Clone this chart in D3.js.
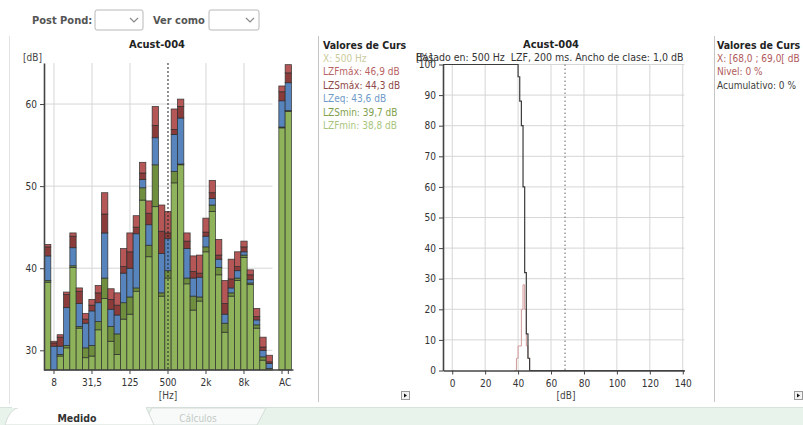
<!DOCTYPE html>
<html>
<head>
<meta charset="utf-8">
<script src="https://cdn.jsdelivr.net/npm/d3@7"></script>
<style>
  body { margin: 0; background: #fff; }
  svg { display: block; }
</style>
</head>
<body>
<div id="chart"></div>
<script>
// 1/3 octave bands + A / C totals
const bands = ["6,3", "8", "10", "12,5", "16", "20", "25", "31,5", "40", "50", "63", "80", "100", "125", "160", "200",
    "250", "315", "400", "500", "630", "800", "1k", "1,25k", "1,6k", "2k", "2,5k", "3,15k", "4k", "5k", "6,3k", "8k",
    "10k", "12,5k", "16k", "20k", "A", "C"];
const lzfMax = [42.9, 31.1, 31.9, 37.1, 44.3, 37.6, 34.5, 36.2, 37.9, 49.2, 37.5, 37.0, 42.4, 44.3, 46.4, 52.9,
    48.2, 59.7, 47.7, 46.9, 59.4, 60.6, 44.3, 41.5, 41.6, 46.1, 50.7, 43.5, 38.5, 41.1, 42.0, 43.3,
    39.8, 35.1, 31.6, 29.4, 62.2, 64.8];
const lzsMax = [42.6, 30.9, 31.6, 36.8, 43.9, 37.2, 33.8, 35.5, 37.0, 46.6, 36.2, 35.5, 40.2, 42.0, 45.0, 51.6,
    46.7, 57.4, 44.5, 44.3, 56.9, 59.7, 43.3, 39.6, 39.4, 44.4, 49.2, 41.6, 35.7, 38.7, 40.2, 42.6,
    39.2, 34.1, 30.4, 28.6, 61.5, 63.8];
const lzeq = [41.5, 30.5, 30.5, 35.2, 42.5, 35.7, 33.3, 34.8, 35.8, 44.3, 35.0, 34.3, 39.4, 40.0, 44.2, 50.8,
    45.3, 55.9, 41.8, 43.6, 56.3, 58.3, 42.4, 38.8, 38.9, 43.9, 48.5, 41.1, 34.4, 37.6, 39.7, 42.0,
    38.6, 33.7, 30.0, 28.4, 60.4, 62.6];
const lzsMin = [38.5, 27.2, 29.5, 30.6, 40.3, 32.9, 30.3, 30.6, 33.5, 38.8, 32.9, 32.0, 35.8, 36.5, 37.6, 49.8,
    42.8, 52.6, 37.0, 39.7, 51.8, 52.7, 38.8, 36.6, 36.5, 42.6, 47.7, 40.1, 33.3, 37.0, 38.8, 41.6,
    38.2, 33.1, 29.2, 27.8, 57.2, 59.2];
const lzfMin = [38.3, 27.0, 29.3, 30.3, 40.1, 32.7, 29.1, 29.3, 32.5, 36.3, 31.1, 29.5, 33.8, 34.4, 37.2, 48.3,
    41.4, 47.5, 36.6, 38.8, 50.4, 52.6, 38.1, 34.9, 36.0, 42.0, 46.9, 39.2, 32.2, 36.6, 38.5, 41.3,
    38.0, 32.7, 28.8, 27.4, 57.1, 59.1];
const bandTicks = ["8", "31,5", "125", "500", "2k", "8k"];
const levelTicks = [30, 40, 50, 60];

// distribution at 500 Hz, LZF, 1 dB classes
const claseDb = [38, 39, 40, 41, 42, 43, 44, 45, 46, 47];
const nivelPct = [0, 4, 8, 8, 20, 28, 20, 8, 4, 0];
const acumPct = [100, 100, 96, 88, 80, 60, 32, 12, 4, 0];
const dbTicks = [0, 20, 40, 60, 80, 100, 120, 140];
const pctTicks = [0, 10, 20, 30, 40, 50, 60, 70, 80, 90, 100];

const FONT = '"DejaVu Sans Condensed", "DejaVu Sans", Tahoma, sans-serif';
const colors = { fmin: "#8fb35a", smin: "#6f8f3f", eq: "#5784bd", smax: "#8c3b3b", fmax: "#b55757" };

const svg = d3.select("#chart").append("svg")
    .attr("width", 803)
    .attr("height", 425)
    .style("font-family", FONT);

// ---------- toolbar ----------
const dropdown = (x, w) => {
    svg.append("rect").attr("x", x).attr("y", 10).attr("width", w).attr("height", 20)
        .attr("rx", 2).attr("fill", "#fff").attr("stroke", "#b8b8b8");
    svg.append("path").attr("d", `M${x + w - 13},18 l4,4 l4,-4`)
        .attr("fill", "none").attr("stroke", "#8a8a8a").attr("stroke-width", 1.2);
};
svg.append("text").attr("x", 32).attr("y", 24).attr("font-size", 11).attr("font-weight", "bold")
    .attr("fill", "#555").text("Post Pond:");
dropdown(95, 48);
svg.append("text").attr("x", 153).attr("y", 24).attr("font-size", 11).attr("font-weight", "bold")
    .attr("fill", "#555").text("Ver como");
dropdown(209, 50);

// panel separators
svg.append("line").attr("x1", 9.5).attr("x2", 9.5).attr("y1", 36).attr("y2", 404).attr("stroke", "#e2e2e2");
svg.append("line").attr("x1", 318.5).attr("x2", 318.5).attr("y1", 36).attr("y2", 402).attr("stroke", "#c4c4c4");
svg.append("line").attr("x1", 714.5).attr("x2", 714.5).attr("y1", 36).attr("y2", 402).attr("stroke", "#c4c4c4");

// ---------- left chart: spectrum ----------
const slots = bands.slice(0, 36).concat(["_gap", "A", "C"]);
const xL = d3.scaleBand().domain(slots).range([44.5, 44.5 + slots.length * 6.333]);
const yL = d3.scaleLinear().domain([27.6, 65]).range([370, 63]);
const left = svg.append("g");
const cx = b => xL(b) + xL.bandwidth() / 2;

// grid
left.selectAll(".hgrid").data(levelTicks).enter().append("line")
    .attr("x1", 44).attr("x2", xL("_gap"))
    .attr("y1", d => yL(d)).attr("y2", d => yL(d))
    .attr("stroke", "#d6d6d6");
left.selectAll(".vgrid").data(bandTicks.filter(b => b !== "500")).enter().append("line")
    .attr("x1", d => cx(d)).attr("x2", d => cx(d))
    .attr("y1", yL.range()[1]).attr("y2", yL.range()[0])
    .attr("stroke", "#d6d6d6");

// stacked bars
const base = yL.domain()[0];
const rows = bands.map((b, i) => ({
    band: b,
    segs: [
        { lo: base, hi: lzfMin[i], c: colors.fmin },
        { lo: lzfMin[i], hi: lzsMin[i], c: colors.smin },
        { lo: lzsMin[i], hi: lzeq[i], c: colors.eq },
        { lo: lzeq[i], hi: lzsMax[i], c: colors.smax },
        { lo: lzsMax[i], hi: lzfMax[i], c: colors.fmax }
    ]
}));
const barG = left.selectAll(".bar").data(rows).enter().append("g")
    .attr("transform", d => `translate(${xL(d.band)},0)`);
barG.selectAll("rect").data(d => d.segs.filter(s => s.hi > base)).enter().append("rect")
    .attr("x", 0)
    .attr("width", xL.bandwidth())
    .attr("y", s => yL(s.hi))
    .attr("height", s => yL(Math.max(s.lo, base)) - yL(s.hi))
    .attr("fill", s => s.c)
    .attr("stroke", "#2b2b2b")
    .attr("stroke-opacity", 0.85)
    .attr("stroke-width", 0.8);

// cursor at 500 Hz
left.append("line")
    .attr("x1", cx("500")).attr("x2", cx("500"))
    .attr("y1", yL.range()[1]).attr("y2", yL.range()[0])
    .attr("stroke", "#222").attr("stroke-dasharray", "2,2");

// axes
left.append("g").attr("transform", "translate(44,0)")
    .call(d3.axisLeft(yL).tickValues(levelTicks).tickSize(4).tickPadding(3).tickSizeOuter(0));
const xAxisL = left.append("g").attr("transform", "translate(0,370)")
    .call(d3.axisBottom(xL).tickValues(bandTicks.concat(["A", "C"])).tickSize(4).tickPadding(5).tickSizeOuter(0)
        .tickFormat(d => (d === "A" || d === "C") ? "" : d));
xAxisL.select(".domain").attr("d", `M44,0H${xL.range()[1] + 2}`);
left.append("text")
    .attr("x", (cx("A") + cx("C")) / 2).attr("y", 385.5)
    .attr("text-anchor", "middle").attr("font-size", 10).attr("fill", "#333").text("AC");
left.append("text").attr("x", 23).attr("y", 61).attr("font-size", 10).attr("fill", "#444").text("[dB]");
left.append("text").attr("x", cx("500")).attr("y", 399).attr("text-anchor", "middle")
    .attr("font-size", 10).attr("fill", "#444").text("[Hz]");
left.append("text").attr("x", 157).attr("y", 48).attr("text-anchor", "middle")
    .attr("font-size", 11).attr("font-weight", "bold").attr("fill", "#222").text("Acust-004");

// legend (cursor values)
const legendL = [
    { t: "X: 500 Hz", c: "#c9cc9c" },
    { t: "LZFmáx: 46,9 dB", c: "#b86464" },
    { t: "LZSmáx: 44,3 dB", c: "#8e4848" },
    { t: "LZeq: 43,6 dB", c: "#6f9ac8" },
    { t: "LZSmin: 39,7 dB", c: "#7fa04c" },
    { t: "LZFmin: 38,8 dB", c: "#a9c57c" }
];
svg.append("text").attr("x", 323).attr("y", 49).attr("font-size", 10.5).attr("font-weight", "bold")
    .attr("fill", "#222").text("Valores de Curs");
svg.selectAll(".legL").data(legendL).enter().append("text")
    .attr("x", 323).attr("y", (d, i) => 62 + i * 13.4)
    .attr("font-size", 10).attr("fill", d => d.c).text(d => d.t);

// ---------- right chart: distribution ----------
const xR = d3.scaleLinear().domain([-5.6, 141]).range([443, 684.4]);
const yR = d3.scaleLinear().domain([0, 100]).range([370.5, 64.5]);
const right = svg.append("g");

right.selectAll(".hg").data(pctTicks.slice(1)).enter().append("line")
    .attr("x1", 443).attr("x2", xR.range()[1])
    .attr("y1", d => yR(d)).attr("y2", d => yR(d)).attr("stroke", "#d6d6d6");
right.selectAll(".vg").data(dbTicks).enter().append("line")
    .attr("x1", d => xR(d)).attr("x2", d => xR(d))
    .attr("y1", yR(100)).attr("y2", yR(0)).attr("stroke", "#d6d6d6");

// cursor class [68,0 ; 69,0[
right.append("line").attr("x1", xR(68.5)).attr("x2", xR(68.5))
    .attr("y1", yR(100)).attr("y2", yR(0))
    .attr("stroke", "#666").attr("stroke-dasharray", "1.5,2.5");

const step = d3.line().x(d => xR(d[0])).y(d => yR(d[1])).curve(d3.curveStepAfter);
right.append("path")
    .datum(claseDb.map((c, i) => [c, nivelPct[i]]))
    .attr("fill", "none").attr("stroke", "#d49a9a").attr("stroke-width", 1).attr("d", step);
const acumPts = [[xR.domain()[0], acumPct[0]]]
    .concat(claseDb.map((c, i) => [c, acumPct[i]]))
    .concat([[xR.domain()[1], acumPct[acumPct.length - 1]]]);
right.append("path")
    .datum(acumPts)
    .attr("fill", "none").attr("stroke", "#3c3c3c").attr("stroke-width", 1.2).attr("d", step);

right.append("g").attr("transform", "translate(443,0)")
    .call(d3.axisLeft(yR).tickValues(pctTicks).tickSize(4).tickPadding(3).tickSizeOuter(0));
right.append("g").attr("transform", `translate(0,${yR(0)})`)
    .call(d3.axisBottom(xR).tickValues(dbTicks).tickSize(4).tickPadding(5).tickSizeOuter(0));

right.append("text").attr("x", 416).attr("y", 60.5).attr("font-size", 10.5).attr("fill", "#333")
    .text("Basado en: 500 Hz\u00a0\u00a0LZF, 200 ms. Ancho de clase: 1,0 dB");
right.append("text").attr("x", 416).attr("y", 60.5).attr("font-size", 10.5).attr("fill", "#333").text("[%]");
right.append("text").attr("x", 551).attr("y", 48).attr("text-anchor", "middle")
    .attr("font-size", 11).attr("font-weight", "bold").attr("fill", "#222").text("Acust-004");
right.append("text").attr("x", 566).attr("y", 399).attr("text-anchor", "middle")
    .attr("font-size", 10).attr("fill", "#444").text("[dB]");

const legendR = [
    { t: "X: [68,0 ; 69,0[ dB", c: "#b05a5a" },
    { t: "Nivel: 0 %", c: "#b05a5a" },
    { t: "Acumulativo: 0 %", c: "#404040" }
];
svg.append("text").attr("x", 717).attr("y", 49).attr("font-size", 10.5).attr("font-weight", "bold")
    .attr("fill", "#222").text("Valores de Curs");
svg.selectAll(".legR").data(legendR).enter().append("text")
    .attr("x", 717).attr("y", (d, i) => 62 + i * 13.4)
    .attr("font-size", 10).attr("fill", d => d.c).text(d => d.t);

// axis styling
svg.selectAll(".tick text").attr("font-size", 10).attr("fill", "#333").style("font-family", FONT);
svg.selectAll(".tick line").attr("stroke", "#444");
svg.selectAll(".domain").attr("stroke", "#444").attr("stroke-width", 1.6);

// little scroll buttons
[[401, 391], [794, 391]].forEach(([bx, by]) => {
    svg.append("rect").attr("x", bx + 0.5).attr("y", by + 0.5).attr("width", 8).attr("height", 8)
        .attr("fill", "#f2f2f2").attr("stroke", "#9a9a9a");
    svg.append("path").attr("d", `M${bx + 3},${by + 2.5} l3,2 l-3,2 Z`).attr("fill", "#111");
});

// ---------- bottom tabs ----------
svg.append("rect").attr("x", 0).attr("y", 407).attr("width", 803).attr("height", 18).attr("fill", "#e7f3eb");
svg.append("line").attr("x1", 0).attr("x2", 803).attr("y1", 407.5).attr("y2", 407.5).attr("stroke", "#d7e2db");
svg.append("path").attr("d", "M142,425 L152,408 L266,408 L257,425 Z")
    .attr("fill", "#f8faf9").attr("stroke", "#d3dcd6");
svg.append("path").attr("d", "M5,425 Q9,409 20,407 L146,407 L154,425 Z")
    .attr("fill", "#fff").attr("stroke", "#d3dcd6");
svg.append("rect").attr("x", 12).attr("y", 405).attr("width", 134).attr("height", 3).attr("fill", "#fff");
svg.append("text").attr("x", 77).attr("y", 422).attr("text-anchor", "middle").attr("font-size", 10.5)
    .attr("font-weight", "bold").attr("fill", "#333").text("Medido");
svg.append("text").attr("x", 198).attr("y", 422).attr("text-anchor", "middle").attr("font-size", 10)
    .attr("fill", "#c2cac6").text("Cálculos");
</script>
</body>
</html>
